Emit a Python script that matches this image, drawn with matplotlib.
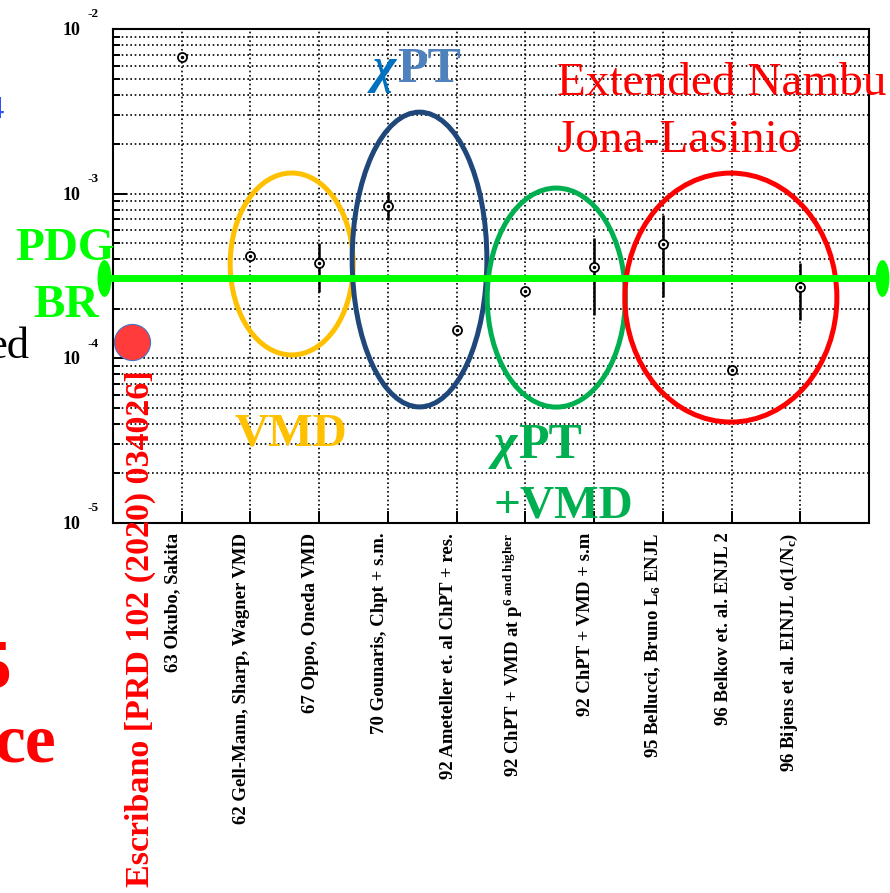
import numpy as np
import matplotlib
matplotlib.use("Agg")
import matplotlib.pyplot as plt
from matplotlib.patches import Ellipse
from matplotlib.path import Path
from matplotlib.transforms import Affine2D

plt.rcParams["font.family"] = ["Liberation Serif", "DejaVu Serif"]
plt.rcParams["mathtext.fontset"] = "custom"
plt.rcParams["mathtext.rm"] = "Liberation Serif:bold"
plt.rcParams["mathtext.it"] = "Liberation Serif:italic:bold"
plt.rcParams["mathtext.bf"] = "Liberation Serif:bold"

# --- data ---
labels = [
    "63 Okubo, Sakita",
    "62 Gell-Mann, Sharp, Wagner VMD",
    "67 Oppo, Oneda VMD",
    "70 Gounaris, Chpt + s.m.",
    "92 Ameteller et. al ChPT + res.",
    r"92 ChPT + VMD at p$^{6\ \mathrm{and\ higher}}$",
    "92 ChPT + VMD + s.m",
    r"95 Bellucci, Bruno L$_{6}$ ENJL",
    "96 Belkov et. al. ENJL 2",
    r"96 Bijens et al. EINJL o(1/N$_{\mathrm{c}}$)",
]
x_pos = np.arange(1, 11)
br = [6.8e-3, 4.2e-4, 3.8e-4, 8.4e-4, 1.49e-4, 2.57e-4, 3.58e-4, 4.94e-4, 8.5e-5, 2.71e-4]
bar_lo = [np.nan, np.nan, 2.53e-4, 6.9e-4, np.nan, np.nan, 1.83e-4, 2.36e-4, np.nan, 1.71e-4]
bar_hi = [np.nan, np.nan, 5.0e-4, 1.02e-3, np.nan, np.nan, 5.4e-4, 7.4e-4, np.nan, 3.8e-4]

pdg_br = 3.08e-4
pdg_x = [-0.13, 11.19]
escribano_x = 0.28
escribano_br = 1.26e-4

# group ellipses: x centre, log10 centre, width (x units), height (decades)
groups = {
    "VMD": ("#FFC000", 2.60, -3.427, 1.79, 1.105),
    "chPT": ("#1F477A", 4.46, -3.400, 1.96, 1.79),
    "chPT+VMD": ("#00B050", 6.45, -3.631, 2.01, 1.33),
    "ENJL": ("#FF0000", 8.99, -3.631, 3.085, 1.512),
}

W, H = 890, 893
fig = plt.figure(figsize=(W / 100, H / 100), dpi=100)
ax = fig.add_axes([113 / W, 1 - 523 / H, 756 / W, 494 / H])
ax.set_yscale("log")
ax.set_xlim(0, 11)
ax.set_ylim(1e-5, 1e-2)

ax.grid(True, which="both", axis="y", color="black", linestyle=(0, (1, 1.6)), linewidth=1.2)
ax.grid(True, which="major", axis="x", color="black", linestyle=(0, (1, 1.6)), linewidth=1.2)
for s in ax.spines.values():
    s.set_linewidth(1.5)

ax.set_xticks(x_pos)
ax.set_xticklabels(labels, rotation=90, ha="right", va="top", fontsize=13.5, fontweight="bold")
ax.tick_params(axis="x", direction="in", length=9, width=1.4, pad=7, top=False)
ax.tick_params(axis="y", which="major", direction="in", length=10, width=1.4, right=False, labelleft=False)
ax.tick_params(axis="y", which="minor", direction="in", length=5, width=1.4, right=False, labelleft=False)

# y labels in ROOT style: "10" with the exponent set apart
for k in (-5, -4, -3, -2):
    ax.annotate("10", xy=(0, 10.0 ** k), xycoords=ax.get_yaxis_transform(),
                xytext=(-23.5, -1), textcoords="offset points", ha="right", va="center",
                fontsize=13, fontweight="bold")
    ax.annotate(str(k), xy=(0, 10.0 ** k), xycoords=ax.get_yaxis_transform(),
                xytext=(-18.5, 10.5), textcoords="offset points", ha="left", va="center",
                fontsize=9.5, fontweight="bold")

# group ellipses
for color, cx, cy, w, h in groups.values():
    ax.add_patch(Ellipse((cx / 11, (cy + 5) / 3), w / 11, h / 3, transform=ax.transAxes,
                         fill=False, edgecolor=color, linewidth=3.6, zorder=3))

# predictions
x_bar = [x for x, lo in zip(x_pos, bar_lo) if not np.isnan(lo)]
lo_bar = [lo for lo in bar_lo if not np.isnan(lo)]
hi_bar = [hi for hi in bar_hi if not np.isnan(hi)]
ax.vlines(x_bar, lo_bar, hi_bar, color="black", linewidth=1.8, zorder=4)
ax.plot(x_pos, br, "o", ms=6.5, mfc="white", mec="black", mew=1.3, zorder=5)
ax.plot(x_pos, br, "o", ms=1.5, color="black", zorder=6)

# PDG line with elliptical caps
cap = Path.unit_circle().transformed(Affine2D().scale(0.38, 1.0))
ax.plot(pdg_x, [pdg_br, pdg_br], color="#00FF00", linewidth=5, marker=cap, ms=26.5,
        mew=0, mfc="#00FF00", clip_on=False, zorder=7, solid_capstyle="butt")

# Escribano result
ax.plot([escribano_x], [escribano_br], "o", ms=26, mfc="#FF3B3B", mec="#4472C4", mew=0.8,
        clip_on=False, zorder=8)


def ftext(px, py, s, **kw):
    kw.setdefault("va", "baseline")
    return fig.text(px / W, 1 - py / H, s, **kw)


ftext(373, 82, "χ", color="#0070C0", fontsize=36, fontweight="bold", style="italic")
ftext(397, 82, "PT", color="#4F81BD", fontsize=36, fontweight="bold")
ftext(557, 95, "Extended Nambu", color="#FF0000", fontsize=34)
ftext(557, 152, "Jona-Lasinio", color="#FF0000", fontsize=34)
ftext(15, 260, "PDG", color="#00FF00", fontsize=34, fontweight="bold")
ftext(33, 317, "BR", color="#00FF00", fontsize=34, fontweight="bold")
ftext(235, 445, "VMD", color="#FFC000", fontsize=34, fontweight="bold")
ftext(494, 458, "χ", color="#00B050", fontsize=36, fontweight="bold", style="italic")
ftext(518, 458, "PT", color="#00B050", fontsize=36, fontweight="bold")
ftext(494, 517, "+VMD", color="#00B050", fontsize=34, fontweight="bold")
ftext(140, 370, "Escribano [PRD 102 (2020) 034026]", color="#FF0000", fontsize=24.5,
      fontweight="bold", rotation=90, ha="center", va="top")

# pieces of slide text cut by the crop, as in the reference
ftext(29, 358, "ed", color="black", fontsize=32, ha="right")
ftext(56, 762, "ce", color="#FF0000", fontsize=50, fontweight="bold", ha="right")
ftext(11, 687, "5", color="#FF0000", fontsize=50, fontweight="bold", ha="right")
ftext(4, 118, "4", color="#3050FF", fontsize=22, ha="right")

fig.savefig("out.png", dpi=100)
plt.close(fig)
